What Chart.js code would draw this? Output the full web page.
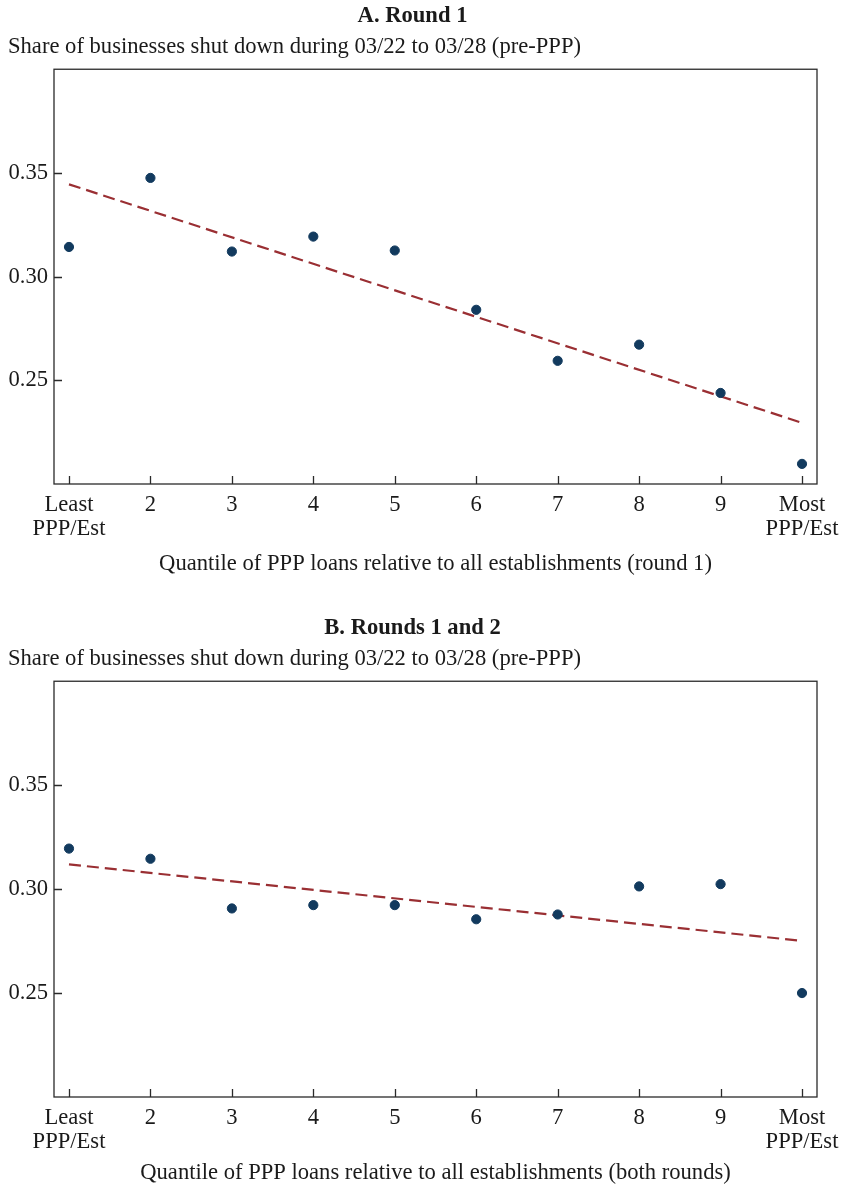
<!DOCTYPE html>
<html>
<head>
<meta charset="utf-8">
<script src="https://cdn.jsdelivr.net/npm/chart.js@4.4.1/dist/chart.umd.min.js"></script>
<style>
  html, body { margin: 0; padding: 0; background: #fff; width: 843px; height: 1187px; overflow: hidden; }
  .panel { position: absolute; left: 0; width: 843px; }
  #wrapA { top: 0; height: 579px; }
  #wrapB { top: 612px; height: 575px; }
</style>
</head>
<body>
<div class="panel" id="wrapA"><canvas id="chartA"></canvas></div>
<div class="panel" id="wrapB"><canvas id="chartB"></canvas></div>
<script>
// ---- Data ----
const xPositions = [1, 2, 3, 4, 5, 6, 7, 8, 9, 10];
const xLabels = [["Least", "PPP/Est"], "2", "3", "4", "5", "6", "7", "8", "9", ["Most", "PPP/Est"]];
const yTicks = [0.25, 0.30, 0.35];

const round1Share = [0.3143, 0.3476, 0.3121, 0.3193, 0.3126, 0.2840, 0.2594, 0.2672, 0.2439, 0.2097];
const round1FitX = [1, 10];
const round1Fit = [0.3445, 0.2295];

const bothRoundsShare = [0.3195, 0.3146, 0.2907, 0.2923, 0.2923, 0.2855, 0.2878, 0.3013, 0.3024, 0.2500];
const bothRoundsFitX = [1, 10];
const bothRoundsFit = [0.3119, 0.2751];

const panelTitles = ["A. Round 1", "B. Rounds 1 and 2"];
const yTitle = "Share of businesses shut down during 03/22 to 03/28 (pre-PPP)";
const xTitles = ["Quantile of PPP loans relative to all establishments (round 1)",
                 "Quantile of PPP loans relative to all establishments (both rounds)"];

// ---- Styling ----
const FONT = "'Liberation Serif', 'Times New Roman', serif";
const FS = 22.6;
const TEXT = "#1a1a1a";
const DOT = "#123a5e";
const FIT = "#9a2f33";

const framePlugin = {
  id: 'frameTicks',
  afterDraw(chart) {
    const { ctx, chartArea: a, scales } = chart;
    ctx.save();
    ctx.strokeStyle = '#2a2a2a';
    ctx.lineWidth = 1.3;
    ctx.strokeRect(a.left, a.top, a.right - a.left, a.bottom - a.top);
    ctx.beginPath();
    scales.x.ticks.forEach(t => {
      const px = Math.round(scales.x.getPixelForValue(t.value)) + 0.5;
      ctx.moveTo(px, a.bottom);
      ctx.lineTo(px, a.bottom - 8);
    });
    scales.y.ticks.forEach(t => {
      const py = Math.round(scales.y.getPixelForValue(t.value)) + 0.5;
      ctx.moveTo(a.left, py);
      ctx.lineTo(a.left + 8, py);
    });
    ctx.stroke();
    ctx.restore();
  }
};

function makeChart(id, title, share, fitX, fit, xTitle, xAxisHeight, xTitlePadBottom) {
  new Chart(document.getElementById(id), {
    data: {
      datasets: [
        {
          type: 'scatter',
          data: xPositions.map((x, i) => ({ x: x, y: share[i] })),
          backgroundColor: DOT,
          borderColor: DOT,
          pointRadius: 4.6,
          pointHoverRadius: 4.6,
          order: 1
        },
        {
          type: 'line',
          data: fitX.map((x, i) => ({ x: x, y: fit[i] })),
          borderColor: FIT,
          borderWidth: 2.2,
          borderDash: [12, 6],
          pointRadius: 0,
          fill: false,
          order: 2
        }
      ]
    },
    options: {
      responsive: true,
      maintainAspectRatio: false,
      animation: false,
      events: [],
      layout: { padding: { left: 8, right: 26, top: 0, bottom: 0 } },
      plugins: {
        legend: { display: false },
        tooltip: { enabled: false },
        title: {
          display: true,
          text: title,
          color: TEXT,
          font: { family: FONT, size: FS, weight: 'bold', lineHeight: 1.2 },
          padding: { top: 3, bottom: 3 }
        },
        subtitle: {
          display: true,
          text: yTitle,
          align: 'start',
          color: TEXT,
          font: { family: FONT, size: FS, weight: 'normal', lineHeight: 1.2 },
          padding: { top: 0, bottom: 9 }
        }
      },
      scales: {
        x: {
          type: 'linear',
          min: 0.816,
          max: 10.184,
          grid: { display: false, drawTicks: false },
          border: { display: false },
          afterBuildTicks: (scale) => { scale.ticks = xPositions.map(v => ({ value: v })); },
          afterFit: (scale) => {
            scale.height = xAxisHeight;
            scale.paddingLeft = 0;
            scale.paddingRight = 0;
          },
          ticks: {
            autoSkip: false,
            maxRotation: 0,
            minRotation: 0,
            padding: 9,
            color: TEXT,
            font: { family: FONT, size: FS, lineHeight: 1.07 },
            callback: (value, index) => xLabels[index]
          },
          title: {
            display: true,
            text: xTitle,
            color: TEXT,
            font: { family: FONT, size: FS, lineHeight: 1.2 },
            padding: { top: 8, bottom: xTitlePadBottom }
          }
        },
        y: {
          type: 'linear',
          min: 0.20,
          max: 0.40,
          grid: { display: false, drawTicks: false },
          border: { display: false },
          afterBuildTicks: (scale) => { scale.ticks = yTicks.map(v => ({ value: v })); },
          afterFit: (scale) => {
            scale.width = 46;
            scale.paddingTop = 0;
            scale.paddingBottom = 0;
          },
          ticks: {
            padding: 6,
            color: TEXT,
            font: { family: FONT, size: FS },
            callback: (value) => Number(value).toFixed(2)
          }
        }
      }
    },
    plugins: [framePlugin]
  });
}

makeChart('chartA', panelTitles[0], round1Share, round1FitX, round1Fit, xTitles[0], 95, 1.4);
makeChart('chartB', panelTitles[1], bothRoundsShare, bothRoundsFitX, bothRoundsFit, xTitles[1], 90, 0);
</script>
</body>
</html>
